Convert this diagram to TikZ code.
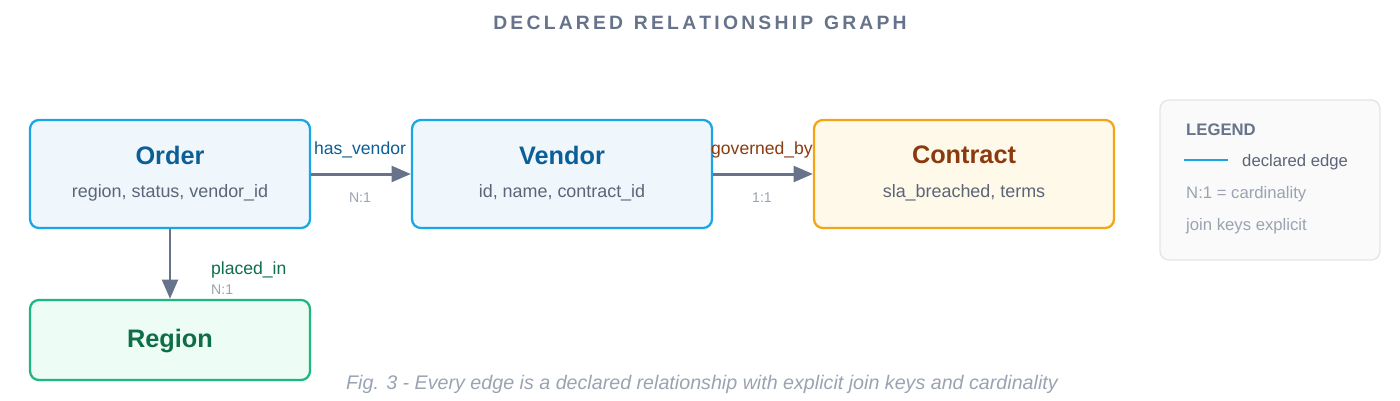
\documentclass[tikz,border=0pt]{standalone}
\usepackage{fontspec}
\setmainfont{Liberation Sans}
\usetikzlibrary{arrows.meta,positioning}
\definecolor{skyline}{HTML}{1AA6E6}
\definecolor{skyfill}{HTML}{EFF7FD}
\definecolor{amberline}{HTML}{F2A516}
\definecolor{amberfill}{HTML}{FEF9E8}
\definecolor{greenline}{HTML}{1DB87F}
\definecolor{greenfill}{HTML}{EDFCF4}
\definecolor{bluetext}{HTML}{0B5E96}
\definecolor{browntext}{HTML}{8B3A0F}
\definecolor{greentext}{HTML}{0E6E4A}
\definecolor{edgegray}{HTML}{66738A}
\definecolor{softgray}{HTML}{9AA3B2}
\definecolor{fieldgray}{HTML}{5B6577}
\tikzset{
  entity/.style={draw, rounded corners=5pt, line width=1.3pt, minimum width=6cm, minimum height=2.16cm, inner sep=0pt},
  ename/.style={font=\fontsize{14.4}{16}\selectfont\bfseries},
  efield/.style={font=\fontsize{10.2}{12}\selectfont, text=fieldgray},
  rel/.style={draw=edgegray, line width=1.7pt, -{Triangle[width=9pt,length=11pt]}},
  rlabel/.style={font=\fontsize{10}{12}\selectfont},
  card/.style={font=\fontsize{8}{9}\selectfont, text=softgray},
  legtext/.style={font=\fontsize{9.5}{11}\selectfont}
}
\begin{document}
\begin{tikzpicture}[x=0.02cm,y=-0.02cm]
\useasboundingbox (0,0) rectangle (1400,400);
\node[font=\fontsize{11}{13}\selectfont\bfseries, text=edgegray] (title) at (700,23) {D\,E\,C\,L\,A\,R\,E\,D\ \ R\,E\,L\,A\,T\,I\,O\,N\,S\,H\,I\,P\ \ G\,R\,A\,P\,H};
% entities
\node[entity, draw=skyline, fill=skyfill, minimum width=5.6cm] (order) at (170,174) {};
\node[ename, text=bluetext] at (170,155) {Order};
\node[efield] at (170,193) {region, status, vendor\_id};
\node[entity, draw=skyline, fill=skyfill] (vendor) at (562,174) {};
\node[ename, text=bluetext] at (562,155) {Vendor};
\node[efield] at (562,193) {id, name, contract\_id};
\node[entity, draw=amberline, fill=amberfill] (contract) at (964,174) {};
\node[ename, text=browntext] at (964,155) {Contract};
\node[efield] at (964,193) {sla\_breached, terms};
\node[entity, draw=greenline, fill=greenfill, minimum width=5.6cm, minimum height=1.6cm] (region) at (170,340) {};
\node[ename, text=greentext] at (170,341) {Region};
% edges
\draw[rel] (order) -- (vendor);
\node[rlabel, text=bluetext] at (360,150) {has\_vendor};
\node[card] at (360,198) {N:1};
\draw[rel] (vendor) -- (contract);
\node[rlabel, text=browntext] at (762,150) {governed\_by};
\node[card] at (762,198) {1:1};
\draw[rel] (order) -- (region);
\node[rlabel, text=greentext, anchor=west] at (205,270) {placed\_in};
\node[card, anchor=west] at (205,290) {N:1};
% legend
\node[draw=black!10, fill=black!2, rounded corners=5pt, line width=0.8pt, minimum width=4.4cm, minimum height=3.2cm] (legend) at (1270,180) {};
\node[anchor=west, font=\fontsize{9.5}{11}\selectfont\bfseries, text=edgegray] at (1180,130) {LEGEND};
\draw[skyline, line width=1.3pt] (1184,160) -- (1228,160);
\node[anchor=west, legtext, text=fieldgray] at (1236,162) {declared edge};
\node[anchor=west, legtext, text=softgray] at (1180,194) {N:1 = cardinality};
\node[anchor=west, legtext, text=softgray] at (1180,226) {join keys explicit};
% caption
\node[font=\fontsize{11.2}{13}\selectfont\itshape, text=softgray] at (702,384) {Fig. 3 - Every edge is a declared relationship with explicit join keys and cardinality};
\end{tikzpicture}
\end{document}
